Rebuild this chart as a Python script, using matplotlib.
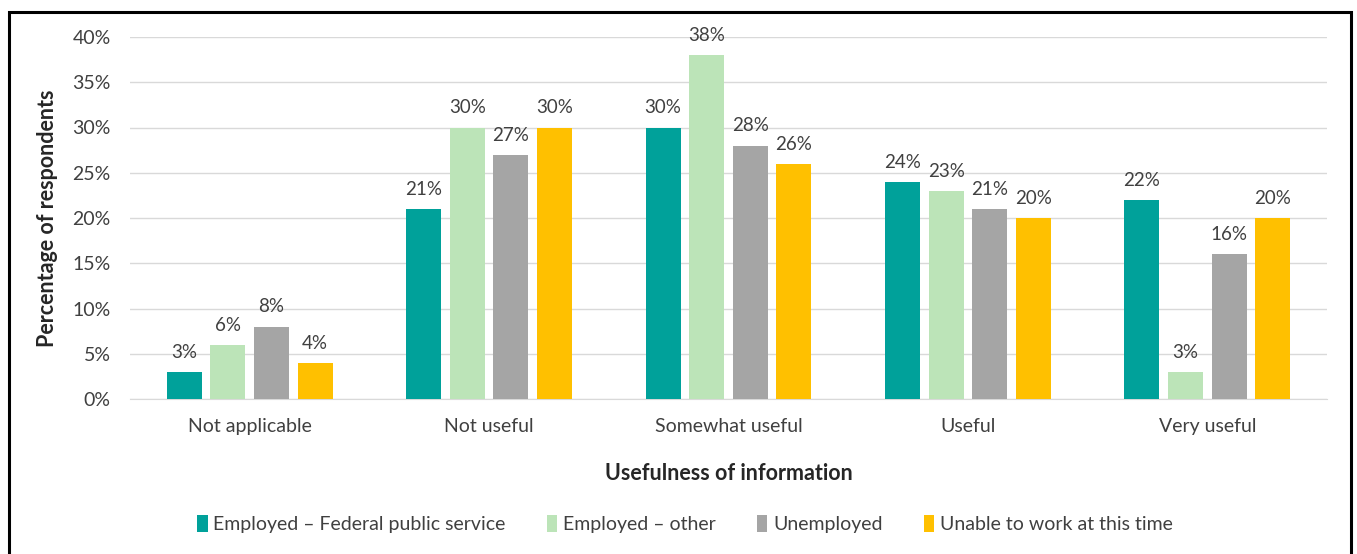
import matplotlib.pyplot as plt
import numpy as np
from matplotlib.patches import Rectangle

# data
categories = ['Not applicable', 'Not useful', 'Somewhat useful', 'Useful', 'Very useful']
series_names = ['Employed \u2013 Federal public service', 'Employed \u2013 other',
                'Unemployed', 'Unable to work at this time']
federal = [3, 21, 30, 24, 22]
other = [6, 30, 38, 23, 3]
unemployed = [8, 27, 28, 21, 16]
unable = [4, 30, 26, 20, 20]
yticks = [0, 5, 10, 15, 20, 25, 30, 35, 40]

colors = ['#00A19A', '#BCE4B8', '#A5A5A5', '#FFC000']

plt.rcParams['font.family'] = ['Lato', 'DejaVu Sans']

fig = plt.figure(figsize=(13.57, 5.54), dpi=100)
ax = fig.add_axes([130 / 1357, 1 - 399 / 554, 1197 / 1357, 362 / 554])

x = np.arange(len(categories))
step = 0.182
width = 0.146
all_series = [federal, other, unemployed, unable]
for i, (vals, name, col) in enumerate(zip(all_series, series_names, colors)):
    pos = x + (i - 1.5) * step
    bars = ax.bar(pos, vals, width, color=col, label=name, zorder=3)
    for b, v in zip(bars, vals):
        ax.annotate('%d%%' % v, (b.get_x() + b.get_width() / 2, v),
                    xytext=(0, 8), textcoords='offset points',
                    ha='center', va='bottom', fontsize=13.5, color='#404040')

ax.set_xlim(-0.5, len(categories) - 0.5)
ax.set_ylim(0, 40)
ax.set_yticks(yticks)
ax.set_yticklabels(['%d%%' % t for t in yticks])
ax.set_xticks(x)
ax.set_xticklabels(categories)
ax.tick_params(axis='both', length=0, labelsize=14, labelcolor='#404040')
ax.tick_params(axis='x', pad=14)
ax.tick_params(axis='y', pad=14)
ax.grid(axis='y', color='#D9D9D9', linewidth=1, zorder=0)
for s in ['top', 'right', 'left']:
    ax.spines[s].set_visible(False)
ax.spines['bottom'].set_color('#D9D9D9')

ax.set_xlabel('Usefulness of information', fontsize=15.5, fontweight='bold',
              color='#262626', labelpad=20)
ax.set_ylabel('Percentage of respondents', fontsize=15.5, fontweight='bold',
              color='#262626', labelpad=10)

leg = fig.legend(loc='center', bbox_to_anchor=(685 / 1357, 1 - 524 / 554), ncol=4,
                 frameon=False, fontsize=14, handlelength=0.55, handleheight=1.0,
                 handletextpad=0.3, columnspacing=2.1)
for t in leg.get_texts():
    t.set_color('#404040')

# outer chart frame
fig.patches.append(Rectangle((9 / 1357, -0.05), 1342 / 1357, 1.05 - 12 / 554,
                             transform=fig.transFigure, fill=False,
                             edgecolor='black', linewidth=2.2))

fig.savefig('out.png', dpi=100)
